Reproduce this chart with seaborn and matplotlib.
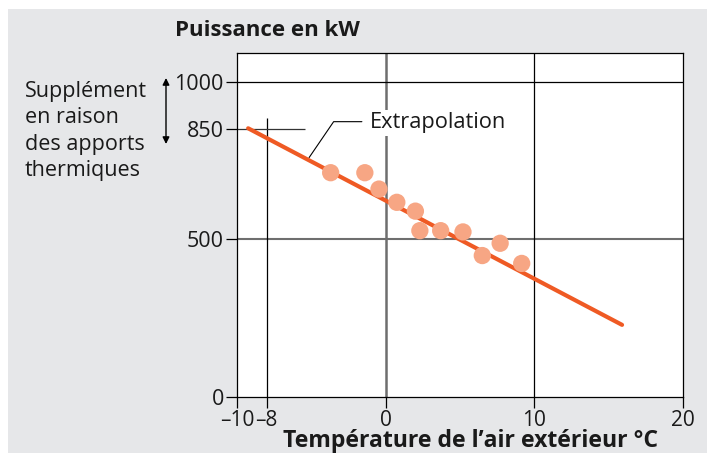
import matplotlib
matplotlib.use('Agg')
import matplotlib.pyplot as plt
from matplotlib.patches import Rectangle
import pandas as pd
import seaborn as sns

# measured points (outside temperature, power)
temp = [-3.7, -1.4, -0.45, 0.75, 2.0, 2.3, 3.7, 5.2, 6.5, 7.7, 9.15]
power = [712, 712, 660, 618, 590, 528, 528, 524, 449, 488, 424]

# extrapolation line end points
line_temp = [-9.25, 15.9]
line_power = [853, 229]

# leader line for the "Extrapolation" label
lead_temp = [-1.6, -3.5, -5.15]
lead_power = [874, 874, 760]

xticks = [-10, -8, 0, 10, 20]
xtick_labels = ['–10', '–8', '0', '10', '20']
yticks = [0, 500, 850, 1000]
ytick_labels = ['0', '500', '850', '1000']

df = pd.DataFrame({'temp': temp, 'power': power})
line_df = pd.DataFrame({'temp': line_temp, 'power': line_power})

sns.set_theme(style='white')
plt.rcParams['font.family'] = ['Open Sans', 'DejaVu Sans']
plt.rcParams['svg.fonttype'] = 'none'

fig = plt.figure(figsize=(7.07, 4.53), dpi=100, facecolor='white')
fig.patches.append(Rectangle((8 / 707, 0), 1, 1 - 9 / 453, transform=fig.transFigure,
                             facecolor='#e6e7e9', edgecolor='none', zorder=-5))
ax = fig.add_axes([237 / 707, 1 - 397 / 453, 446 / 707, 344 / 453])
ax.set_facecolor('white')
ax.set_xlim(-10, 20)
ax.set_ylim(0, 1092)

# reference lines
ax.axvline(0, color='#6e6e6e', lw=1.8, zorder=1)
ax.axhline(500, color='#6e6e6e', lw=1.5, zorder=1)
ax.axvline(10, color='black', lw=0.9, zorder=1)
ax.axhline(1000, color='black', lw=0.9, zorder=1)
ax.vlines(-8, 0, 886, color='black', lw=0.9, zorder=1)
ax.hlines(850, -10, -5.4, color='#333333', lw=0.9, zorder=1)

sns.lineplot(data=line_df, x='temp', y='power', color='#ef5a24', lw=3, ax=ax, zorder=3)
sns.scatterplot(data=df, x='temp', y='power', color='#f7a684', s=155, edgecolor='none',
                ax=ax, zorder=4)
ax.plot(lead_temp, lead_power, color='black', lw=0.8, zorder=2)
ax.text(-1.05, 870, 'Extrapolation', fontsize=15.7, ha='left', va='center', color='#1a1a1a',
        zorder=5, bbox=dict(facecolor='white', edgecolor='none', pad=2))

for s in ax.spines.values():
    s.set_color('black')
    s.set_linewidth(0.9)
    s.set_visible(True)

ax.set_xticks(xticks)
ax.set_xticklabels(xtick_labels)
ax.set_yticks(yticks)
ax.set_yticklabels(ytick_labels)
ax.tick_params(axis='y', length=8, width=0.9, color='black', labelsize=15.5,
               labelcolor='#1a1a1a', pad=1.5, left=True)
ax.tick_params(axis='x', length=8, width=0.9, color='black', labelsize=15,
               labelcolor='#1a1a1a', pad=1, bottom=True)

ax.set_xlabel('Température de l’air extérieur °C', fontsize=16.6, fontweight='bold',
              color='#1a1a1a', va='center')
ax.xaxis.set_label_coords((471 - 237) / 446, (397 - 441) / 344)
ax.set_ylabel('')
fig.text(175 / 707, 1 - 31 / 453, 'Puissance en kW', fontsize=16, fontweight='bold',
         ha='left', va='center', color='#1a1a1a')

fig.text(25 / 707, 1 - 131 / 453, 'Supplément\nen raison\ndes apports\nthermiques',
         fontsize=15.5, ha='left', va='center', linespacing=1.32, color='#1a1a1a')
ax.annotate('', xy=(166 / 707, 1 - 78 / 453), xytext=(166 / 707, 1 - 144 / 453),
            xycoords='figure fraction', textcoords='figure fraction',
            arrowprops=dict(arrowstyle='<|-|>', color='black', lw=1, mutation_scale=10,
                            shrinkA=0, shrinkB=0))

fig.savefig('out.png', dpi=100, facecolor=fig.get_facecolor())
